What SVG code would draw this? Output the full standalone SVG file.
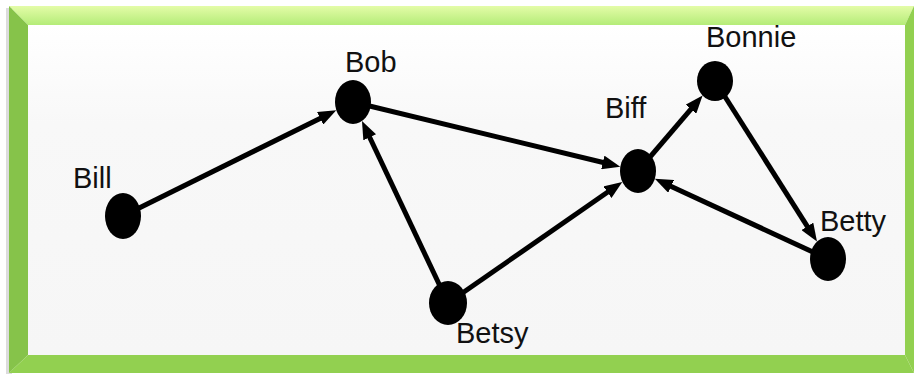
<svg xmlns="http://www.w3.org/2000/svg" width="914" height="374" viewBox="0 0 914 374">
<style>
.lbl{font-family:"Liberation Sans",Arial,sans-serif;font-size:29px;fill:#111}
.edge{stroke:#000;stroke-width:5;fill:none;marker-end:url(#arr)}
.node{fill:#000}
</style>
<defs>
<marker id="arr" markerUnits="userSpaceOnUse" markerWidth="18" markerHeight="14" refX="10" refY="7" orient="auto" viewBox="0 0 18 14">
<path d="M0,0 L18,7 L0,14 z" fill="#000"/>
</marker>
<linearGradient id="topg" x1="0" y1="0" x2="0" y2="1">
<stop offset="0" stop-color="#e4fca8"/>
<stop offset="1" stop-color="#b4ec78"/>
</linearGradient>
<linearGradient id="panel" x1="0" y1="0" x2="0" y2="1">
<stop offset="0" stop-color="#ffffff"/>
<stop offset="0.3" stop-color="#f8f8f8"/>
<stop offset="1" stop-color="#f6f6f6"/>
</linearGradient>
</defs>
<rect x="0" y="0" width="914" height="374" fill="#ffffff"/>
<g id="frame">
<rect x="6" y="8" width="6" height="366" fill="#dcdcdc"/>
<polygon points="9,6 914,6 905,25 28,25" fill="url(#topg)"/>
<polygon points="9,6 28,25 28,355 9,373" fill="#86c34a"/>
<polygon points="9,373 28,355 905,355 914,373" fill="#92d050"/>
<polygon points="914,6 905,25 905,355 914,373" fill="#92d050"/>
<rect x="28" y="25" width="877" height="330" fill="url(#panel)"/>
</g>
<g id="connectors">
<line class="edge" x1="123" y1="216" x2="329.1" y2="113.9"/>
<line class="edge" x1="353" y1="102" x2="612.5" y2="164.8"/>
<line class="edge" x1="448" y1="303" x2="365.4" y2="128.3"/>
<line class="edge" x1="448" y1="303" x2="615.7" y2="186.5"/>
<line class="edge" x1="638" y1="171" x2="697.4" y2="101.6"/>
<line class="edge" x1="715" y1="81" x2="812.7" y2="234.8"/>
<line class="edge" x1="828" y1="259" x2="662.1" y2="182.2"/>
</g>
<g id="bill"><ellipse class="node" cx="123" cy="216" rx="18" ry="23"/><text class="lbl" x="73" y="188">Bill</text></g>
<g id="bob"><ellipse class="node" cx="353" cy="102" rx="18" ry="22"/><text class="lbl" x="345" y="72">Bob</text></g>
<g id="biff"><ellipse class="node" cx="638" cy="171" rx="18" ry="22"/><text class="lbl" x="605" y="118">Biff</text></g>
<g id="bonnie"><ellipse class="node" cx="715" cy="81" rx="18" ry="20"/><text class="lbl" x="706" y="47">Bonnie</text></g>
<g id="betty"><ellipse class="node" cx="828" cy="259" rx="18" ry="22"/><text class="lbl" x="820" y="231">Betty</text></g>
<g id="betsy"><ellipse class="node" cx="448" cy="303" rx="19" ry="22"/><text class="lbl" x="456" y="343">Betsy</text></g>
</svg>
